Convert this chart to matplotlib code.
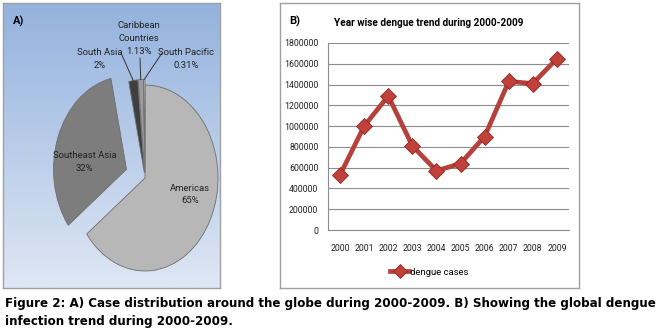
import numpy as np
import matplotlib
matplotlib.use('Agg')
import matplotlib.pyplot as plt

# Datos
regiones = ['Americas', 'Southeast Asia', 'South Asia', 'Caribbean\nCountries', 'South Pacific']
porcentajes = [65, 32, 2, 1.13, 0.31]
etiquetas_pct = ['65%', '32%', '2%', '1.13%', '0.31%']

anios = ['2000', '2001', '2002', '2003', '2004', '2005', '2006', '2007', '2008', '2009']
casos = [530000, 1000000, 1290000, 810000, 570000, 640000, 900000, 1430000, 1410000, 1650000]
yticks = [0, 200000, 400000, 600000, 800000, 1000000, 1200000, 1400000, 1600000, 1800000]

W, H = 663, 335
FONT = ['Roboto', 'DejaVu Sans']


def caja(x0, y0, x1, y1):
    """Convierte una caja en píxeles (origen arriba-izquierda) a fracciones."""
    return [x0 / W, 1 - y1 / H, (x1 - x0) / W, (y1 - y0) / H]


fig = plt.figure(figsize=(W / 100, H / 100), dpi=100)
fig.patch.set_facecolor('white')

# Panel A: fondo degradado
ax_bg = fig.add_axes(caja(3, 3, 220, 288))
grad = np.linspace(0, 1, 256).reshape(-1, 1)
top = np.array([148, 178, 222]) / 255
bot = np.array([222, 231, 244]) / 255
img = top + (bot - top) * grad[..., None]
ax_bg.imshow(img, aspect='auto', extent=[0, 1, 0, 1])
ax_bg.set_xticks([])
ax_bg.set_yticks([])
for s in ax_bg.spines.values():
    s.set_color('#a0a0a0')
    s.set_linewidth(1)
ax_bg.text(0.045, 0.925, 'A)', transform=ax_bg.transAxes, fontsize=8,
           fontweight='bold', family=FONT)

# Pie
rx, ry = 73, 93
cx, cy = 145, 178
ax_pie = fig.add_axes(caja(cx - 1.5 * rx, cy - 1.5 * ry, cx + 1.5 * rx, cy + 1.5 * ry))
ax_pie.set_facecolor('none')
colores = ['#b7b7b7', '#7d7d7d', '#3f3f3f', '#9c9c9c', '#c8c8c8']
wedges, _ = ax_pie.pie(porcentajes, colors=colores, startangle=90, counterclock=False,
                       explode=[0.0, 0.27, 0.06, 0.06, 0.06],
                       wedgeprops=dict(edgecolor='#6e6e6e', linewidth=0.6))
ax_pie.set_xlim(-1.5, 1.5)
ax_pie.set_ylim(-1.5, 1.5)
ax_pie.set_aspect('auto')
ax_pie.axis('off')

# Etiquetas interiores
for i, (dx, dy) in zip([0, 1], [(0.62, -0.18), (-0.83, 0.17)]):
    ax_pie.text(dx, dy, regiones[i] + '\n' + etiquetas_pct[i], ha='center', va='center',
                fontsize=6.8, family=FONT, color='#222222', linespacing=1.5)

# Etiquetas exteriores con líneas guía
pos_txt = [None, None, (100, 59), (139, 32), (186, 59)]
for i in [2, 3, 4]:
    w = wedges[i]
    ang = np.deg2rad((w.theta1 + w.theta2) / 2)
    xc, yc = w.center
    punta = (xc + np.cos(ang), yc + np.sin(ang))
    tx, ty = pos_txt[i]
    if i == 3:
        fig.text(tx / W, 1 - ty / H, regiones[i], ha='center', va='center',
                 fontsize=6.8, family=FONT, color='#222222', linespacing=1.5)
        fig.text(tx / W, 1 - 52 / H, etiquetas_pct[i], ha='center', va='center',
                 fontsize=6.8, family=FONT, color='#222222')
        lx, ly = 140, 58
    else:
        fig.text(tx / W, 1 - ty / H, regiones[i] + '\n' + etiquetas_pct[i], ha='center',
                 va='center', fontsize=6.8, family=FONT, color='#222222', linespacing=1.5)
        lx = tx + (21 if i == 2 else -24)
        ly = ty - 6
    ax_pie.annotate('', xy=punta, xycoords='data',
                    xytext=(lx / W, 1 - ly / H), textcoords='figure fraction',
                    arrowprops=dict(arrowstyle='-', color='#333333', lw=0.7,
                                    shrinkA=0, shrinkB=0))

# Panel B: caja blanca
ax_b = fig.add_axes(caja(280, 3, 579, 288))
ax_b.set_xticks([])
ax_b.set_yticks([])
for s in ax_b.spines.values():
    s.set_color('#a0a0a0')
    s.set_linewidth(1)
ax_b.text(0.03, 0.925, 'B)', transform=ax_b.transAxes, fontsize=8,
          fontweight='bold', family=FONT)
ax_b.text(0.498, 0.918, 'Year wise dengue trend during 2000-2009', transform=ax_b.transAxes,
          ha='center', fontsize=7.2, fontweight='bold', family=FONT)

# Gráfico de línea
ax = fig.add_axes(caja(328, 43, 569, 230))
x = np.arange(len(anios))
ax.plot(x, casos, color='#b5413c', linewidth=3.4, marker='D', markersize=8,
        markerfacecolor='#c0403a', markeredgecolor='#8e2a25', markeredgewidth=0.6,
        label='dengue cases', zorder=3)
ax.set_xlim(-0.5, len(anios) - 0.5)
ax.set_ylim(0, 1800000)
ax.set_yticks(yticks)
ax.set_yticklabels([str(v) for v in yticks])
ax.set_xticks(x)
ax.set_xticklabels(anios)
ax.tick_params(axis='both', length=0, labelsize=6.3, colors='#222222')
ax.tick_params(axis='x', pad=10)
ax.tick_params(axis='y', pad=7)
for lbl in ax.get_xticklabels() + ax.get_yticklabels():
    lbl.set_family(FONT)
ax.grid(axis='y', color='#8c8c8c', linewidth=0.8)
ax.set_axisbelow(True)
for s in ['top', 'right']:
    ax.spines[s].set_visible(False)
ax.spines['left'].set_color('#8c8c8c')
ax.spines['bottom'].set_color('#8c8c8c')
ax.legend(loc='center', bbox_to_anchor=(0.42, -0.225), frameon=False,
          prop={'family': FONT, 'size': 6.8}, handlelength=2.0, handletextpad=0.1,
          markerscale=0.9)

# Pie de figura
fig.text(5 / W, 1 - 303 / H,
         'Figure 2: A) Case distribution around the globe during 2000-2009. B) Showing the global dengue',
         fontsize=8.6, fontweight='bold', family='DejaVu Sans', va='center')
fig.text(5 / W, 1 - 322 / H, 'infection trend during 2000-2009.',
         fontsize=8.6, fontweight='bold', family='DejaVu Sans', va='center')

fig.savefig('out.png', dpi=100)
